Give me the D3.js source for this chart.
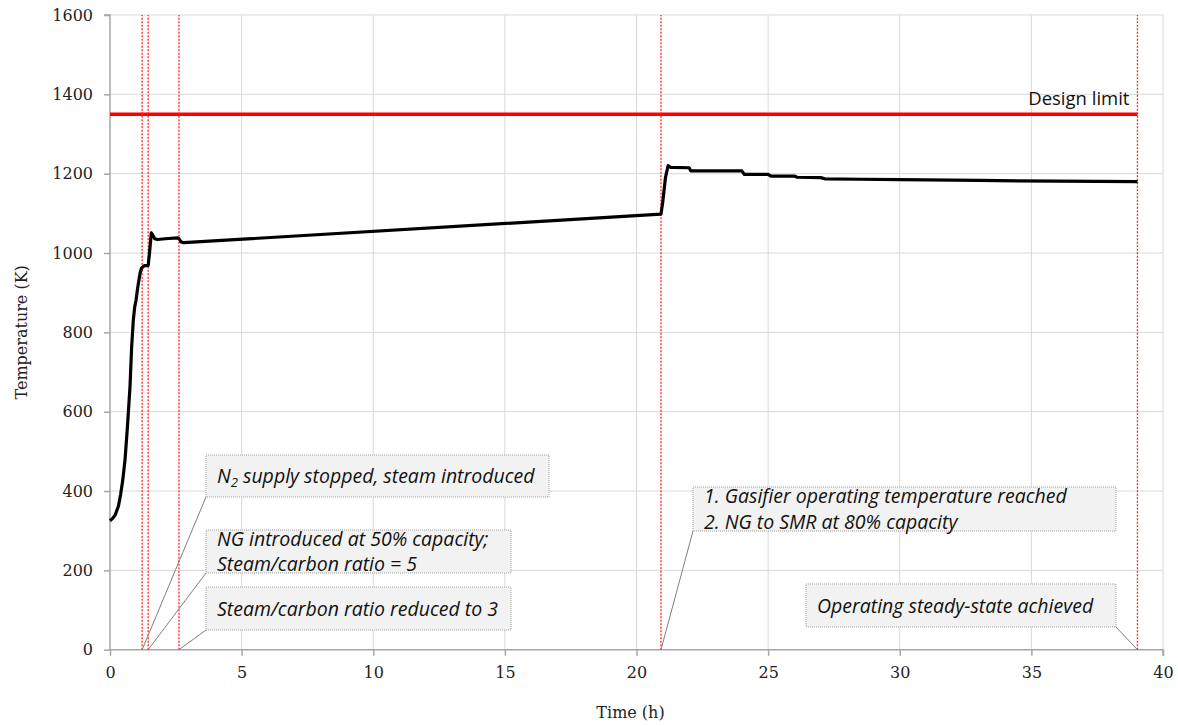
<!DOCTYPE html>
<html>
<head>
<meta charset="utf-8">
<script src="https://cdn.jsdelivr.net/npm/d3@7"></script>
<style>
  body { margin: 0; background: #ffffff; }
  svg { display: block; }
</style>
</head>
<body>
<svg id="chart" width="1178" height="726"></svg>
<script>
// Gasifier temperature during start-up (hours vs. Kelvin)
const timeH = [0, 0.1, 0.2, 0.32, 0.4, 0.48, 0.57, 0.66, 0.76, 0.82, 0.885, 0.94, 0.99, 1.05, 1.14, 1.2, 1.3, 1.45, 1.5, 1.57, 1.62, 1.7, 1.8, 2.1, 2.56, 2.62, 2.7, 2.8,
  20.93, 21.0, 21.1, 21.2, 21.3, 22.0, 22.06, 24.0, 24.1, 25.0, 25.1, 26.0, 26.1, 27.0, 27.15, 28.5, 30, 33, 36, 39.03];
const tempK = [325, 331, 340, 362, 390, 425, 478, 560, 663, 760, 831, 865, 881, 912, 949, 962, 968, 968, 1000, 1051, 1046, 1036, 1034, 1036, 1038, 1036, 1028, 1026,
  1098, 1130, 1190, 1220, 1216, 1215, 1207, 1207, 1198, 1198, 1194, 1194, 1191, 1190, 1187, 1186, 1185, 1183, 1181, 1180];

// Operating events (h), marked with dotted red verticals
const eventTimes = [1.22, 1.45, 2.62, 20.93, 39.03];
const designLimit = 1350;

const xTicks = [0, 5, 10, 15, 20, 25, 30, 35, 40];
const yTicks = [0, 200, 400, 600, 800, 1000, 1200, 1400, 1600];

// Callout texts, each tied to one event
const noteLines = [
  [["N", "2", " supply stopped, steam introduced"]],
  [["NG introduced at 50% capacity;"], ["Steam/carbon ratio = 5"]],
  [["Steam/carbon ratio reduced to 3"]],
  [["1. Gasifier operating temperature reached"], ["2. NG to SMR at 80% capacity"]],
  [["Operating steady-state achieved"]]
];
const noteEvent = [0, 1, 2, 3, 4];

// Callout box layout (pixels): left, top, right, bottom, and which corner the leader leaves from
const noteBoxes = [
  { x0: 206, y0: 455, x1: 549, y1: 497, corner: "left" },
  { x0: 206, y0: 530, x1: 511, y1: 573, corner: "left" },
  { x0: 206, y0: 587, x1: 511, y1: 630, corner: "left" },
  { x0: 693, y0: 487, x1: 1116, y1: 531, corner: "left" },
  { x0: 806, y0: 584, x1: 1116, y1: 627, corner: "right" }
];

const svg = d3.select("#chart");
const margin = { left: 110, right: 1163, top: 15, bottom: 649.7 };

const x = d3.scaleLinear().domain([0, 40]).range([margin.left, margin.right]);
const y = d3.scaleLinear().domain([0, 1600]).range([margin.bottom, margin.top]);

const serif = "'DejaVu Serif', serif";
const sans = "'Open Sans', Lato, sans-serif";

// Grid
const grid = svg.append("g");
grid.selectAll("line.gx").data(xTicks.filter(d => d > 0)).join("line")
  .attr("x1", d => x(d)).attr("x2", d => x(d))
  .attr("y1", y(0)).attr("y2", y(1600))
  .attr("stroke", "#d9d9d9").attr("stroke-width", 1);
grid.selectAll("line.gy").data(yTicks.filter(d => d > 0)).join("line")
  .attr("x1", x(0)).attr("x2", x(40))
  .attr("y1", d => y(d)).attr("y2", d => y(d))
  .attr("stroke", "#d9d9d9").attr("stroke-width", 1);

// Axes
const xAxis = d3.axisBottom(x).tickValues(xTicks).tickSize(6).tickPadding(11).tickFormat(d3.format("d"));
const yAxis = d3.axisLeft(y).tickValues(yTicks).tickSize(6).tickPadding(11).tickFormat(d3.format("d"));

const gx = svg.append("g").attr("transform", `translate(0,${y(0)})`).call(xAxis);
const gy = svg.append("g").attr("transform", `translate(${x(0)},0)`).call(yAxis);
[gx, gy].forEach(g => {
  g.select(".domain").attr("stroke", "#a6a6a6").attr("stroke-width", 1.5);
  g.selectAll(".tick line").attr("stroke", "#a6a6a6").attr("stroke-width", 1.5);
  g.selectAll(".tick text").attr("fill", "#222").style("font-family", serif).style("font-size", "16px");
});
gy.select(".domain").attr("d", `M-6,${y(1600)}H0V${y(0)}`);
gx.select(".domain").attr("d", `M${x(0)},0H${x(40)}V6`);

// Axis titles
svg.append("text")
  .attr("x", (x(0) + x(40)) / 2 - 6).attr("y", 718)
  .attr("text-anchor", "middle")
  .style("font-family", serif).style("font-size", "16px").attr("fill", "#222")
  .text("Time (h)");
svg.append("text")
  .attr("transform", `translate(27,${(y(0) + y(1600)) / 2}) rotate(-90)`)
  .attr("text-anchor", "middle")
  .style("font-family", serif).style("font-size", "16px").attr("fill", "#222")
  .text("Temperature (K)");

// Design limit
svg.append("line")
  .attr("x1", x(0)).attr("x2", x(eventTimes[4]))
  .attr("y1", y(designLimit)).attr("y2", y(designLimit))
  .attr("stroke", "#ff0000").attr("stroke-width", 3.5);
svg.append("text")
  .attr("x", x(eventTimes[4]) - 8).attr("y", y(designLimit) - 9)
  .attr("text-anchor", "end")
  .style("font-family", sans).style("font-size", "18.5px").attr("fill", "#111")
  .text("Design limit");

// Event markers
svg.selectAll("line.event").data(eventTimes).join("line")
  .attr("x1", d => x(d)).attr("x2", d => x(d))
  .attr("y1", y(0)).attr("y2", y(1600))
  .attr("stroke", "#ff2020").attr("stroke-width", 1.3)
  .attr("stroke-dasharray", "2,1.5");

// Temperature curve
const line = d3.line()
  .x((d, i) => x(timeH[i]))
  .y(d => y(d))
  .curve(d3.curveLinear);
svg.append("path")
  .attr("d", line(tempK))
  .attr("fill", "none").attr("stroke", "#000").attr("stroke-width", 3.2)
  .attr("stroke-linejoin", "round");

// Callouts
const notes = svg.append("g");
noteBoxes.forEach((b, i) => {
  const ev = eventTimes[noteEvent[i]];
  const sx = b.corner === "left" ? b.x0 : b.x1;
  notes.append("line")
    .attr("x1", sx).attr("y1", b.y1)
    .attr("x2", x(ev)).attr("y2", y(0))
    .attr("stroke", "#7f7f7f").attr("stroke-width", 1);
  notes.append("rect")
    .attr("x", b.x0).attr("y", b.y0)
    .attr("width", b.x1 - b.x0).attr("height", b.y1 - b.y0)
    .attr("fill", "#f2f2f2").attr("stroke", "#a0a0a0")
    .attr("stroke-width", 1).attr("stroke-dasharray", "1,1");
  const lines = noteLines[i];
  const lh = 25.5;
  const cy = (b.y0 + b.y1) / 2;
  lines.forEach((parts, k) => {
    const by = cy + (k - (lines.length - 1) / 2) * lh + 7;
    const t = notes.append("text")
      .attr("x", b.x0 + 11).attr("y", by)
      .style("font-family", sans).style("font-style", "italic").style("font-size", "19.5px")
      .attr("fill", "#111");
    if (parts.length === 3) {
      t.append("tspan").text(parts[0]);
      t.append("tspan").attr("dy", 4).style("font-size", "13px").text(parts[1]);
      t.append("tspan").attr("dy", -4).text(parts[2]);
    } else {
      t.text(parts[0]);
    }
  });
});
</script>
</body>
</html>
